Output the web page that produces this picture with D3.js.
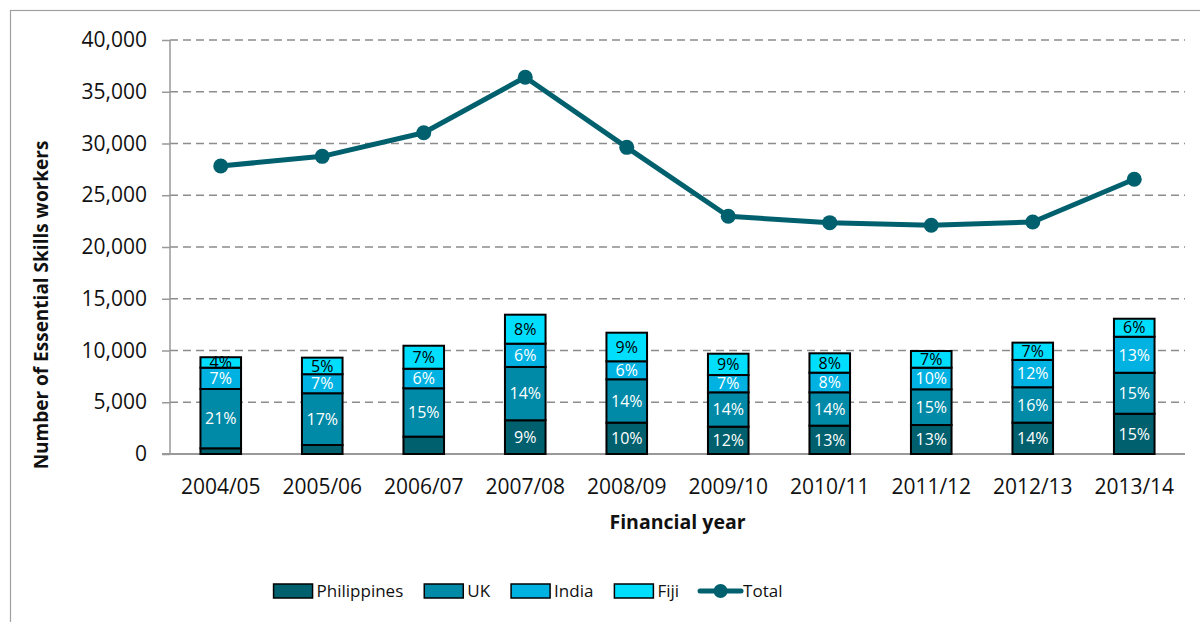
<!DOCTYPE html>
<html>
<head>
<meta charset="utf-8">
<script src="https://cdn.jsdelivr.net/npm/d3@7"></script>
<style>
body { margin:0; background:#fff; }
svg { font-family:"Open Sans", sans-serif; }
</style>
</head>
<body>
<svg id="chart" width="1200" height="622"></svg>
<script>
var years = ["2004/05","2005/06","2006/07","2007/08","2008/09","2009/10","2010/11","2011/12","2012/13","2013/14"];
var philippines = [550, 870, 1680, 3260, 3030, 2640, 2740, 2800, 3030, 3890];
var uk          = [5730, 5000, 4670, 5150, 4190, 3320, 3220, 3450, 3420, 3960];
var india       = [2060, 1840, 1890, 2250, 1740, 1670, 1900, 2090, 2640, 3480];
var fiji        = [1010, 1600, 2220, 2800, 2760, 2060, 1870, 1610, 1670, 1740];
var total       = [27830, 28760, 31040, 36400, 29630, 22970, 22350, 22100, 22420, 26540];

// share of total, as printed on the bars
var philLabels  = ["", "", "", "9%", "10%", "12%", "13%", "13%", "14%", "15%"];
var ukLabels    = ["21%","17%","15%","14%","14%","14%","14%","15%","16%","15%"];
var indiaLabels = ["7%","7%","6%","6%","6%","7%","8%","10%","12%","13%"];
var fijiLabels  = ["4%","5%","7%","8%","9%","9%","8%","7%","7%","6%"];

var yTicks = [0, 5000, 10000, 15000, 20000, 25000, 30000, 35000, 40000];

var series = [
  {name:"Philippines", values:philippines, labels:philLabels, color:"#00606e", text:"#fff"},
  {name:"UK", values:uk, labels:ukLabels, color:"#008aa8", text:"#fff"},
  {name:"India", values:india, labels:indiaLabels, color:"#00b2e2", text:"#fff"},
  {name:"Fiji", values:fiji, labels:fijiLabels, color:"#00defe", text:"#000"}
];
var lineColor = "#00606e";

var svg = d3.select("#chart");
var plotLeft = 170, plotRight = 1185, plotTop = 40, plotBottom = 454;

// outer frame
svg.append("rect").attr("x",10.5).attr("y",10.5).attr("width",1220).attr("height",700)
  .attr("fill","none").attr("stroke","#a0a0a0").attr("stroke-width",1.2);

var x = d3.scaleBand().domain(years).range([plotLeft, plotRight]).paddingInner(0.6).paddingOuter(0.3);
var y = d3.scaleLinear().domain([0, 40000]).range([plotBottom, plotTop]);

// gridlines
svg.append("g").selectAll("line").data(yTicks.slice(1)).enter().append("line")
  .attr("x1", plotLeft).attr("x2", plotRight)
  .attr("y1", function(d){ return y(d); }).attr("y2", function(d){ return y(d); })
  .attr("stroke","#8c8c8c").attr("stroke-width",1.6).attr("stroke-dasharray","8,5");

var yAxis = d3.axisLeft(y).tickValues(yTicks).tickFormat(d3.format(",")).tickSize(8).tickPadding(15);
var gy = svg.append("g").attr("transform","translate("+plotLeft+",0)").call(yAxis);
gy.select(".domain").attr("stroke","#999").attr("stroke-width",1.5).attr("d","M0,"+plotTop+"V"+plotBottom);
gy.selectAll(".tick line").attr("stroke","#999").attr("stroke-width",1.5);
gy.selectAll(".tick text").attr("font-size",21).attr("fill","#111").attr("font-family","Open Sans");

var xAxis = d3.axisBottom(x).tickSize(0).tickPadding(25);
var gx = svg.append("g").attr("transform","translate(0,"+plotBottom+")").call(xAxis);
gx.select(".domain").attr("stroke","#999").attr("stroke-width",2).attr("d","M"+(plotLeft-8)+",0H"+plotRight);
gx.selectAll(".tick text").attr("font-size",21).attr("fill","#111").attr("font-family","Open Sans");

// stacked bars
var stacks = years.map(function(yr, i){
  var acc = 0;
  return series.map(function(s){
    var seg = {year:yr, y0:acc, y1:acc + s.values[i], label:s.labels[i], s:s};
    acc += s.values[i];
    return seg;
  });
});
var segs = [].concat.apply([], stacks);

var gb = svg.append("g");
gb.selectAll("rect").data(segs).enter().append("rect")
  .attr("x", function(d){ return x(d.year); })
  .attr("width", x.bandwidth())
  .attr("y", function(d){ return y(d.y1); })
  .attr("height", function(d){ return y(d.y0) - y(d.y1); })
  .attr("fill", function(d){ return d.s.color; })
  .attr("stroke","#000").attr("stroke-width",2);

gb.selectAll("text").data(segs.filter(function(d){ return d.label; })).enter().append("text")
  .attr("x", function(d){ return x(d.year) + x.bandwidth()/2; })
  .attr("y", function(d){ return (y(d.y0) + y(d.y1))/2; })
  .attr("dy","0.36em")
  .attr("text-anchor","middle")
  .attr("font-size",16)
  .attr("fill", function(d){ return d.s.text; })
  .text(function(d){ return d.label; });

// total line
var line = d3.line()
  .x(function(d,i){ return x(years[i]) + x.bandwidth()/2; })
  .y(function(d){ return y(d); });
svg.append("path").datum(total).attr("d", line)
  .attr("fill","none").attr("stroke",lineColor).attr("stroke-width",5).attr("stroke-linejoin","round");
svg.append("g").selectAll("circle").data(total).enter().append("circle")
  .attr("cx", function(d,i){ return x(years[i]) + x.bandwidth()/2; })
  .attr("cy", function(d){ return y(d); })
  .attr("r",7.5).attr("fill",lineColor);

// axis titles
svg.append("text").attr("x",(plotLeft+plotRight)/2).attr("y",529).attr("text-anchor","middle")
  .attr("font-size",19.5).attr("font-weight","bold").attr("fill","#111").text("Financial year");
svg.append("text").attr("transform","translate(48,305)rotate(-90)").attr("text-anchor","middle")
  .attr("font-size",19).attr("font-weight","bold").attr("fill","#111").text("Number of Essential Skills workers");

// legend, centred under the chart
var legend = svg.append("g").attr("font-size",17);
var lx = 0, ly = 591;
series.concat([{name:"Total", line:true}]).forEach(function(s){
  if (s.line) {
    legend.append("line").attr("x1",lx).attr("x2",lx+41).attr("y1",ly).attr("y2",ly)
      .attr("stroke",lineColor).attr("stroke-width",5).attr("stroke-linecap","round");
    legend.append("circle").attr("cx",lx+20.5).attr("cy",ly).attr("r",7).attr("fill",lineColor);
  } else {
    legend.append("rect").attr("x",lx).attr("y",ly-7).attr("width",39).attr("height",14)
      .attr("fill",s.color).attr("stroke","#000").attr("stroke-width",1.5);
  }
  var t = legend.append("text").attr("x",lx+43).attr("y",ly).attr("dy","0.35em").attr("fill","#111").text(s.name);
  lx += 43 + t.node().getComputedTextLength() + 21;
});
var legendWidth = lx - 21;
legend.attr("transform","translate("+(528 - legendWidth/2)+",0)");
</script>
</body>
</html>
